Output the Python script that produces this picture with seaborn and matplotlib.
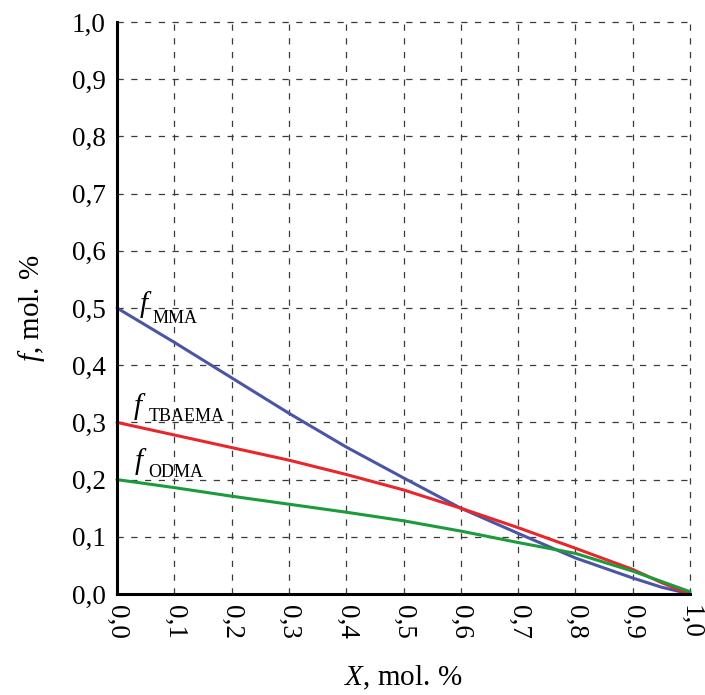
import matplotlib
matplotlib.use("Agg")
import matplotlib.pyplot as plt
import seaborn as sns
import pandas as pd

# Data
x_vals = [0.0, 0.1, 0.2, 0.3, 0.4, 0.5, 0.6, 0.7, 0.8, 0.9, 0.95, 1.0]
f_mma = [0.50, 0.44, 0.378, 0.316, 0.257, 0.203, 0.150, 0.106, 0.063, 0.028, 0.012, 0.0]
f_tbaema = [0.30, 0.278, 0.256, 0.234, 0.209, 0.182, 0.150, 0.116, 0.080, 0.043, 0.020, 0.0]
f_odma = [0.20, 0.186, 0.171, 0.157, 0.143, 0.128, 0.110, 0.090, 0.071, 0.040, 0.022, 0.004]
series_names = ["MMA", "TBAEMA", "ODMA"]
series_colors = ["#4b55a6", "#e8262b", "#1c9a3c"]
tick_vals = [0.0, 0.1, 0.2, 0.3, 0.4, 0.5, 0.6, 0.7, 0.8, 0.9, 1.0]
tick_labels = ["0,0", "0,1", "0,2", "0,3", "0,4", "0,5", "0,6", "0,7", "0,8", "0,9", "1,0"]

sns.set_theme(style="white")
plt.rcParams["font.family"] = ["Liberation Serif", "DejaVu Serif"]
plt.rcParams["mathtext.fontset"] = "custom"
plt.rcParams["mathtext.rm"] = "Liberation Serif"
plt.rcParams["mathtext.it"] = "Liberation Serif:italic"
for k in ["text.color", "axes.labelcolor", "xtick.color", "ytick.color"]:
    plt.rcParams[k] = "black"

df = pd.DataFrame({
    "X": x_vals * 3,
    "f": f_mma + f_tbaema + f_odma,
    "s": sum([[n] * len(x_vals) for n in series_names], []),
})

W, H = 705, 695
L, R, B, T = 117, 690, 594, 22
fig = plt.figure(figsize=(W / 100, H / 100), dpi=100)
ax = fig.add_axes([L / W, (H - B) / H, (R - L) / W, (B - T) / H])

sns.lineplot(data=df, x="X", y="f", hue="s", palette=dict(zip(series_names, series_colors)),
             linewidth=2.2, legend=False, ax=ax, clip_on=False, zorder=3)

ax.set_xlim(0, 1)
ax.set_ylim(0, 1)
ax.set_xticks(tick_vals)
ax.set_xticklabels(tick_labels, rotation=-90, fontsize=19.5)
ax.set_yticks(tick_vals)
ax.set_yticklabels(tick_labels, fontsize=19.5)
ax.tick_params(axis="both", direction="in", length=4, width=1, color="black", pad=8)
ax.grid(True, linestyle=(0, (5, 6)), color="#3a3a3a", linewidth=0.9)
for gl in ax.get_xgridlines() + ax.get_ygridlines():
    gl.set_clip_on(False)
for s in ["top", "right"]:
    ax.spines[s].set_visible(False)
for s in ["left", "bottom"]:
    ax.spines[s].set_color("black")
    ax.spines[s].set_linewidth(2.2)
    ax.spines[s].set_zorder(4)

ax.set_xlabel("$\\mathit{X}$, mol. %", fontsize=21, labelpad=18)
ax.set_ylabel("$\\mathit{f}$, mol. %", fontsize=21, labelpad=18)


def px(x, y):
    return (x - L) / (R - L), (B - y) / (B - T)


labels = [("MMA", 140, 312, 153, 323), ("TBAEMA", 134, 414, 149, 421), ("ODMA", 135, 469, 148, 477)]
for name, fx, fy, sx, sy in labels:
    ax.text(*px(fx, fy), "f", fontsize=21, style="italic", va="baseline", ha="left")
    ax.text(*px(sx, sy), name, fontsize=13, va="baseline", ha="left")

fig.savefig("out.png", dpi=100)
